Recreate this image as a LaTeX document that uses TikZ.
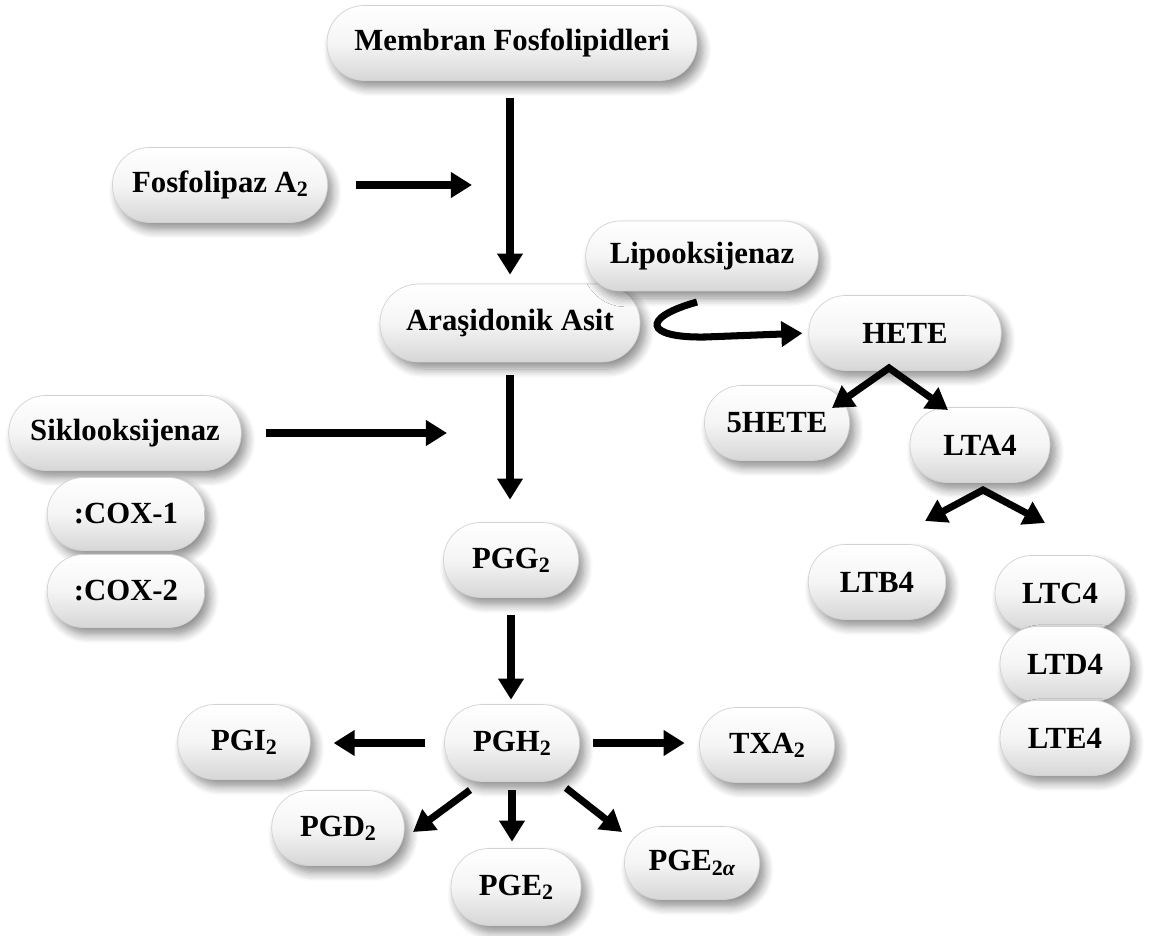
\documentclass[tikz,border=0pt]{standalone}
\usepackage{fontspec}
\setmainfont{Liberation Serif}
\usetikzlibrary{arrows.meta,shadows.blur}
\newcommand\sbs[1]{\raisebox{-0.3ex}{\fontsize{12.5}{12.5}\selectfont #1}}
\tikzset{
  bubble/.style={rectangle, rounded corners=0.74cm, minimum height=1.5cm, inner xsep=6pt,
    top color=white, bottom color=gray!32, middle color=gray!8,
    draw=gray!35, line width=0.4pt,
    blur shadow={shadow xshift=3pt, shadow yshift=-4pt, shadow blur steps=8, shadow blur radius=5pt, shadow opacity=45},
    font=\bfseries\fontsize{17.5}{20}\selectfont},
  arr/.style={line width=4pt, -{Triangle[length=12pt,width=14pt]}},
  arr2/.style={line width=4pt, {Triangle[length=12pt,width=14pt]}-{Triangle[length=12pt,width=14pt]}, line join=miter},
}
\begin{document}
\begin{tikzpicture}[x=0.02cm,y=-0.02cm]
\useasboundingbox (0,0) rectangle (1149,936);
% nodes
\node[bubble, minimum width=7.4cm] (mem) at (512,43) {Membran Fosfolipidleri};
\node[bubble, minimum width=4.3cm] (fos) at (220,185) {Fosfolipaz A\sbs{2}};
\node[bubble, minimum width=5.2cm, minimum height=1.56cm, rounded corners=0.77cm] (ara) at (510,323) {Araşidonik Asit};
\node[bubble, minimum width=4.65cm, minimum height=1.4cm, rounded corners=0.69cm] (lip) at (702,256) {Lipooksijenaz};
\node[bubble, minimum width=3.85cm] (hete) at (905,333) {HETE};
\node[bubble, minimum width=2.9cm] (h5) at (777,423) {5HETE};
\node[bubble, minimum width=2.8cm] (lta) at (980,445) {LTA4};
\node[bubble, minimum width=2.75cm] (ltb) at (877,582) {LTB4};
\node[bubble, minimum width=2.6cm] (ltc) at (1060,593) {LTC4};
\node[bubble, minimum width=2.6cm] (ltd) at (1065,664) {LTD4};
\node[bubble, minimum width=2.6cm] (lte) at (1065,738) {LTE4};
\node[bubble, minimum width=4.65cm] (sik) at (125,433) {Siklooksijenaz};
\node[bubble, minimum width=3.15cm, minimum height=1.46cm, rounded corners=0.72cm] (cox1) at (126,514) {:COX-1};
\node[bubble, minimum width=3.15cm, minimum height=1.46cm, rounded corners=0.72cm] (cox2) at (126,591) {:COX-2};
\node[bubble, minimum width=2.7cm] (pgg) at (511,560) {PGG\sbs{2}};
\node[bubble, minimum width=2.7cm, minimum height=1.54cm, rounded corners=0.76cm] (pgh) at (512,743) {PGH\sbs{2}};
\node[bubble, minimum width=2.65cm] (pgi) at (244,742) {PGI\sbs{2}};
\node[bubble, minimum width=2.7cm] (txa) at (767,745) {TXA\sbs{2}};
\node[bubble, minimum width=2.65cm] (pgd) at (338,828) {PGD\sbs{2}};
\node[bubble, minimum width=2.6cm, minimum height=1.54cm, rounded corners=0.76cm] (pge) at (516,887) {PGE\sbs{2}};
\node[bubble, minimum width=2.7cm, minimum height=1.46cm, rounded corners=0.72cm] (pga) at (692,863) {PGE\sbs{2\textit{α}}};
% free ends
\coordinate (fosend) at (472,185);
\coordinate (sikend) at (447,433);
\coordinate (lipstart) at (697,302);
\coordinate (hapex) at (889,368);
\coordinate (h5end) at (832,408);
\coordinate (ltaend) at (948,410);
\coordinate (lapex) at (983,490);
\coordinate (ltbend) at (925,521);
\coordinate (ltcend) at (1045,523);
\coordinate (d1s) at (470,790);
\coordinate (d1e) at (413,832);
\coordinate (d3s) at (566,788);
\coordinate (d3e) at (622,832);
% connectors
\draw[arr, shorten <=0.35cm, shorten >=0.18cm] (mem.south -| ara.north) -- (ara.north);
\draw[arr, shorten <=0.56cm] (fos.east) -- (fosend);
\draw[arr, shorten <=0.48cm] (sik.east) -- (sikend);
\draw[arr, shorten <=0.26cm, shorten >=0.45cm] (ara.south) -- (ara.south |- pgg.north);
\draw[arr, shorten <=0.35cm, shorten >=0.09cm] (pgg.south) -- (pgg.south |- pgh.north);
\draw[arr, shorten <=0.39cm, shorten >=0.46cm] (pgh.west) -- (pgh.west -| pgi.east);
\draw[arr, shorten <=0.27cm, shorten >=0.29cm] (pgh.east) -- (pgh.east -| txa.west);
\draw[arr, shorten <=0.17cm, shorten >=0.13cm] (pgh.south) -- (pgh.south |- pge.north);
\draw[arr] (d1s) -- (d1e);
\draw[arr] (d3s) -- (d3e);
\draw[arr, shorten >=0.12cm] (lipstart) .. controls (640,318) and (645,338) .. (705,337) -- (hete.west);
\draw[arr2] (h5end) -- (hapex) -- (ltaend);
\draw[arr2] (ltbend) -- (lapex) -- (ltcend);
\end{tikzpicture}
\end{document}
